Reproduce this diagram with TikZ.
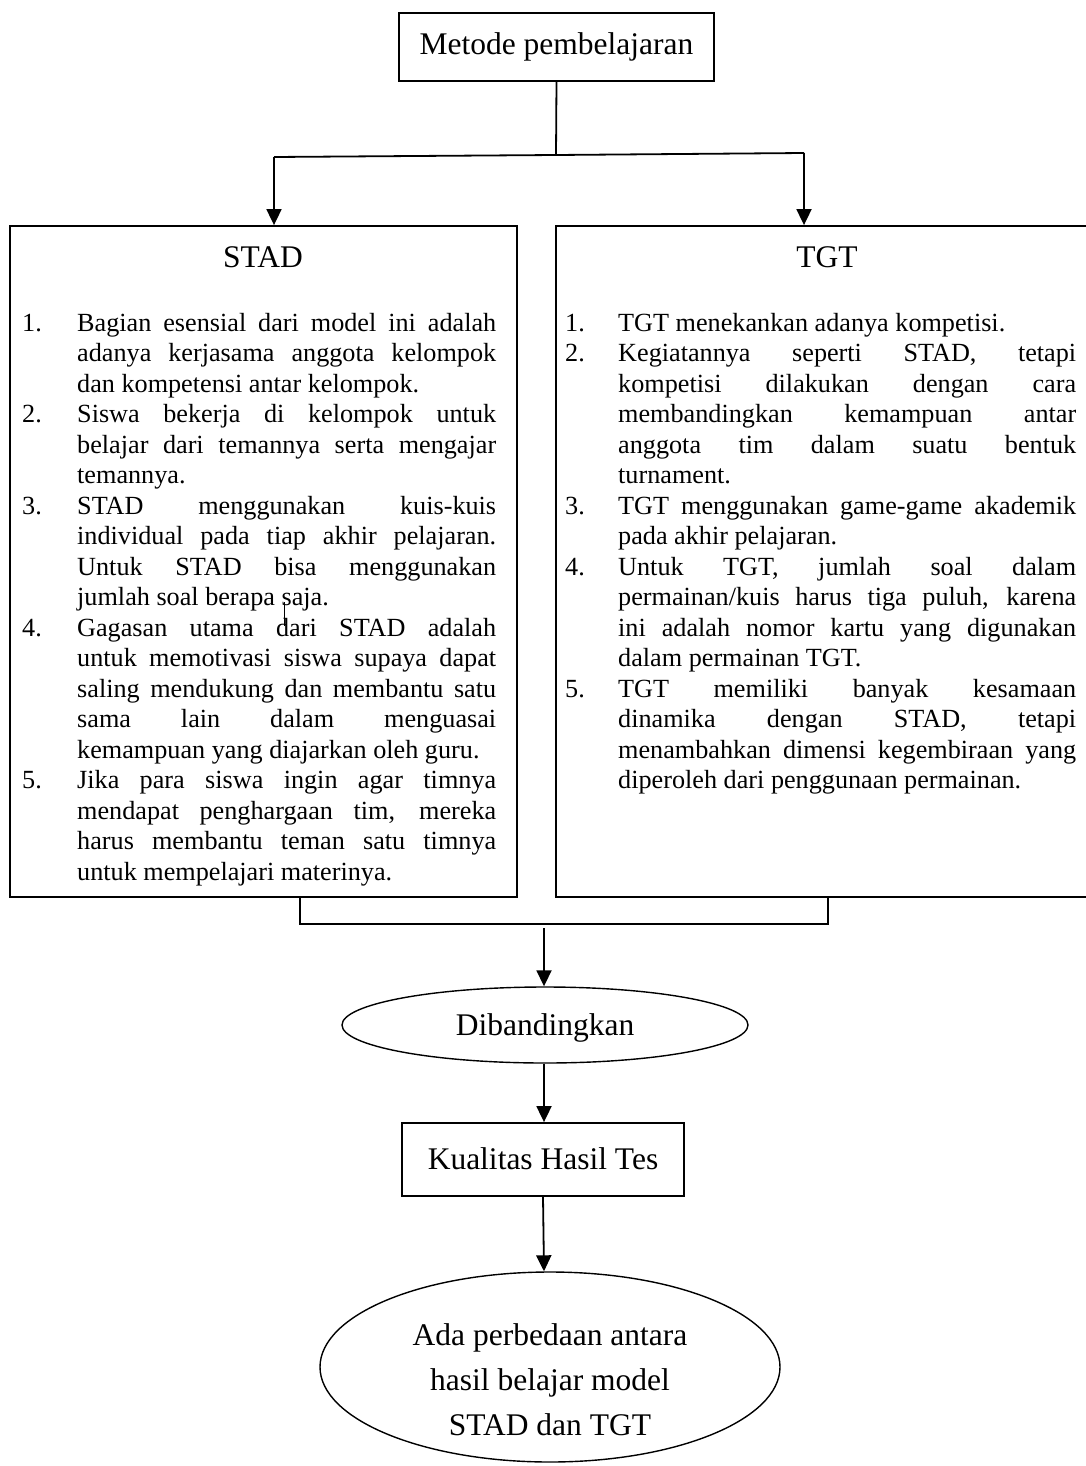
\documentclass[tikz,border=0pt]{standalone}
\usepackage{fontspec}
\setmainfont{Liberation Serif}
\usetikzlibrary{arrows.meta,shapes.geometric}
\newcommand\bodyfont{\fontsize{26.2}{30.5}\selectfont}
\newcommand\headfont{\fontsize{31.5}{42}\selectfont}
\newcommand\ovalfont{\fontsize{31.5}{45}\selectfont}
\newenvironment{itemlist}[1]{%
  \begin{list}{}{\setlength\leftmargin{#1}\setlength\labelwidth{#1}%
    \setlength\labelsep{0pt}\setlength\itemsep{0pt}\setlength\parsep{0pt}%
    \setlength\topsep{0pt}\setlength\partopsep{0pt}\setlength\itemindent{0pt}%
    \setlength\listparindent{0pt}\setlength\rightmargin{0pt}%
    \renewcommand\makelabel[1]{##1\hfil}}}{\end{list}}
\newcommand\listsetup{\bodyfont\tolerance=10000\hbadness=10000\hyphenpenalty=10000\exhyphenpenalty=10000\parindent=0pt}
\tikzset{
  line/.style={line width=1.8pt},
  arr/.style={line width=1.8pt,-{Triangle[length=16pt,width=15pt]}},
  boxnode/.style={draw,line width=1.8pt,rectangle,inner sep=0pt,font=\headfont},
  ovalnode/.style={draw,line width=1.4pt,ellipse,inner sep=0pt,font=\headfont,align=center},
  titletext/.style={inner sep=0pt,anchor=base,font=\headfont},
  listnode/.style={inner sep=0pt,anchor=base west}
}
\begin{document}
\begin{tikzpicture}[x=1pt,y=-1pt]
\useasboundingbox (0,0) rectangle (1086,1466);
% top box
\node[boxnode,minimum width=315pt,minimum height=68pt] (top) at (556.5,47) {};
\node[titletext] (toptext) at (556.5,55) {Metode pembelajaran};
% columns
\node[boxnode,minimum width=507pt,minimum height=671pt] (stad) at (263.5,561.5) {};
\node[boxnode,minimum width=536pt,minimum height=671pt] (tgt) at (824,561.5) {};
\node[titletext] (stadtitle) at (263,267) {STAD};
\node[titletext] (tgttitle) at (827,267) {TGT};
% STAD list
\node[listnode] (stadlist) at (22,331) {\begin{minipage}[t]{474pt}\listsetup
\begin{itemlist}{55pt}
\item[1.] Bagian esensial dari model ini adalah\linebreak adanya kerjasama anggota kelompok\linebreak dan kompetensi antar kelompok.
\item[2.] Siswa bekerja di kelompok untuk\linebreak belajar dari temannya serta mengajar\linebreak temannya.
\item[3.] STAD menggunakan kuis-kuis\linebreak individual pada tiap akhir pelajaran.\linebreak Untuk STAD bisa menggunakan\linebreak jumlah soal berapa saja.
\item[4.] Gagasan utama dari STAD adalah\linebreak untuk memotivasi siswa supaya dapat\linebreak saling mendukung dan membantu satu\linebreak sama lain dalam menguasai\linebreak kemampuan yang diajarkan oleh guru.
\item[5.] Jika para siswa ingin agar timnya\linebreak mendapat penghargaan tim, mereka\linebreak harus membantu teman satu timnya\linebreak untuk mempelajari materinya.
\end{itemlist}\end{minipage}};
% TGT list
\node[listnode] (tgtlist) at (565,331) {\begin{minipage}[t]{511pt}\listsetup
\begin{itemlist}{53pt}
\item[1.] TGT menekankan adanya kompetisi.
\item[2.] Kegiatannya seperti STAD, tetapi\linebreak kompetisi dilakukan dengan cara\linebreak membandingkan kemampuan antar\linebreak anggota tim dalam suatu bentuk\linebreak turnament.
\item[3.] TGT menggunakan game-game akademik\linebreak pada akhir pelajaran.
\item[4.] Untuk TGT, jumlah soal dalam\linebreak permainan/kuis harus tiga puluh, karena\linebreak ini adalah nomor kartu yang digunakan\linebreak dalam permainan TGT.
\item[5.] TGT memiliki banyak kesamaan\linebreak dinamika dengan STAD, tetapi\linebreak menambahkan dimensi kegembiraan yang\linebreak diperoleh dari penggunaan permainan.
\end{itemlist}\end{minipage}};
% stray tick
\coordinate (ticka) at (284,602);
\coordinate (tickb) at (284,626);
\draw[line width=1pt] (ticka) -- (tickb);
% lower nodes
\node[ovalnode,minimum width=406pt,minimum height=76pt] (dib) at (545,1025) {};
\node[titletext] (dibtext) at (545,1035) {Dibandingkan};
\node[boxnode,minimum width=282pt,minimum height=73pt] (kual) at (543,1159.5) {};
\node[titletext] (kualtext) at (543,1169) {Kualitas Hasil Tes};
\node[ovalnode,minimum width=460pt,minimum height=190pt] (ada) at (550,1367) {};
\node[inner sep=0pt,font=\ovalfont,align=center] (adatext) at (550,1380) {Ada perbedaan antara\\hasil belajar model\\STAD dan TGT};
% connectors top
\coordinate (jm) at (556,155);
\coordinate (jl) at (274,157);
\coordinate (jr) at (804,153);
\draw[line] (top.south) -- (jm);
\draw[line] (jl) -- (jm) -- (jr);
\draw[arr] (jl) -- (jl |- stad.north);
\draw[arr] (jr) -- (jr |- tgt.north);
% bracket
\coordinate (bl) at (300,924);
\coordinate (br) at (828,924);
\coordinate (bm) at (544,928);
\draw[line] (bl |- stad.south) -- (bl) -- (br) -- (br |- tgt.south);
\draw[arr] (bm) -- (bm |- dib.north);
\draw[arr] (dib.south -| bm) -- (kual.north -| bm);
\draw[arr] (kual.south) -- (ada.north -| bm);
\end{tikzpicture}
\end{document}
